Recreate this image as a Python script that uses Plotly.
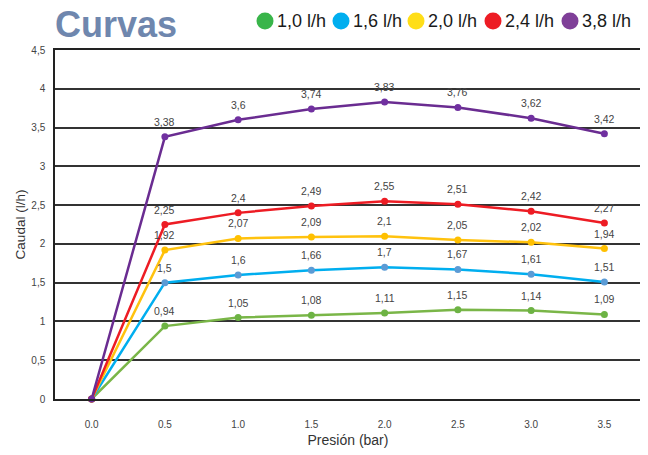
import plotly.graph_objects as go

presion = ["0.0", "0.5", "1.0", "1.5", "2.0", "2.5", "3.0", "3.5"]
serie_nombres = ["1,0 l/h", "1,6 l/h", "2,0 l/h", "2,4 l/h", "3,8 l/h"]
caudal_10 = [0, 0.94, 1.05, 1.08, 1.11, 1.15, 1.14, 1.09]
caudal_16 = [0, 1.5, 1.6, 1.66, 1.7, 1.67, 1.61, 1.51]
caudal_20 = [0, 1.92, 2.07, 2.09, 2.1, 2.05, 2.02, 1.94]
caudal_24 = [0, 2.25, 2.4, 2.49, 2.55, 2.51, 2.42, 2.27]
caudal_38 = [0, 3.38, 3.6, 3.74, 3.83, 3.76, 3.62, 3.42]
y_ticks = [0, 0.5, 1, 1.5, 2, 2.5, 3, 3.5, 4, 4.5]
y_ticktext = ["0", "0,5", "1", "1,5", "2", "2,5", "3", "3,5", "4", "4,5"]

series = [caudal_10, caudal_16, caudal_20, caudal_24, caudal_38]
line_colors = ["#7AB648", "#00AEEF", "#FFC20E", "#ED1C24", "#6A2C91"]
marker_colors = ["#6DB344", "#5B9BD5", "#FFC000", "#ED1C24", "#7030A0"]
legend_colors = ["#39B54A", "#00AEEF", "#FFDE17", "#ED1C24", "#7F3F98"]

OFF = 8  # browser body margin
W, H = 648, 455
# plot area in page pixels: x 55..641, y 50..399
L = 55 - OFF
T = 50 - OFF
R = W - (641 - OFF)
B = H - (399 - OFF)
pw, ph = W - L - R, H - T - B

def px_x(p):
    return (p - OFF - L) / pw

def px_y(p):
    return (H - B - (p - OFF)) / ph

def fmt(v):
    s = ("%.2f" % v).rstrip("0").rstrip(".")
    return s.replace(".", ",")

fig = go.Figure()
annotations = []
for vals, lc, mc in zip(series, line_colors, marker_colors):
    fig.add_trace(go.Scatter(
        x=presion, y=vals, mode="lines+markers",
        line=dict(color=lc, width=2.5),
        marker=dict(color=mc, size=7),
        showlegend=False, cliponaxis=False,
    ))
    for i, v in enumerate(vals):
        if v == 0:
            continue
        annotations.append(dict(x=i, y=v, xref="x", yref="y", text=fmt(v),
                                showarrow=False, yshift=15,
                                font=dict(family="Liberation Sans, Arial", size=10.5, color="#444444")))

shapes = []
leg_centers = [265, 341, 416, 493, 570]
leg_y = 21
r = 8.5
for name, c, cx in zip(serie_nombres, legend_colors, leg_centers):
    shapes.append(dict(type="circle", xref="paper", yref="paper",
                       x0=px_x(cx - r), x1=px_x(cx + r),
                       y0=px_y(leg_y + r), y1=px_y(leg_y - r),
                       fillcolor=c, line=dict(width=0)))
    annotations.append(dict(xref="paper", yref="paper", x=px_x(cx + r + 1), y=px_y(leg_y),
                            xanchor="left", yanchor="middle", showarrow=False,
                            text=name, font=dict(family="Liberation Sans, Arial", size=18, color="#1a1a1a")))

annotations.append(dict(xref="paper", yref="paper", x=px_x(53), y=px_y(25),
                        xanchor="left", yanchor="middle", showarrow=False,
                        text="<b>Curvas</b>",
                        font=dict(family="Liberation Sans, Arial", size=36, color="#6F87AE")))

fig.update_layout(
    width=W, height=H,
    margin=dict(l=L, r=R, t=T, b=B, autoexpand=False),
    paper_bgcolor="white", plot_bgcolor="white",
    font=dict(family="Liberation Sans, Arial", color="#444444"),
    showlegend=False,
    shapes=shapes, annotations=annotations,
)

fig.update_xaxes(
    type="category", showgrid=False, showline=True, linecolor="#222222", linewidth=1.5,
    mirror=True, ticks="", ticklabelstandoff=15, automargin=False,
    tickfont=dict(size=10, color="#444444"),
    title=dict(text="Presión (bar)", font=dict(size=14, color="#333333"), standoff=6),
    range=[-0.5, 7.5], fixedrange=True,
)
fig.update_yaxes(
    range=[0, 4.5], tickvals=y_ticks, ticktext=y_ticktext,
    showgrid=True, gridcolor="#333333", gridwidth=1.5,
    showline=True, linecolor="#222222", linewidth=1.5, mirror=True,
    zeroline=False, ticks="", ticklabelstandoff=6, automargin=False,
    tickfont=dict(size=10, color="#444444"),
    title=dict(text="Caudal (l/h)", font=dict(size=13.5, color="#333333"), standoff=3),
)

fig.write_html("out.html")
